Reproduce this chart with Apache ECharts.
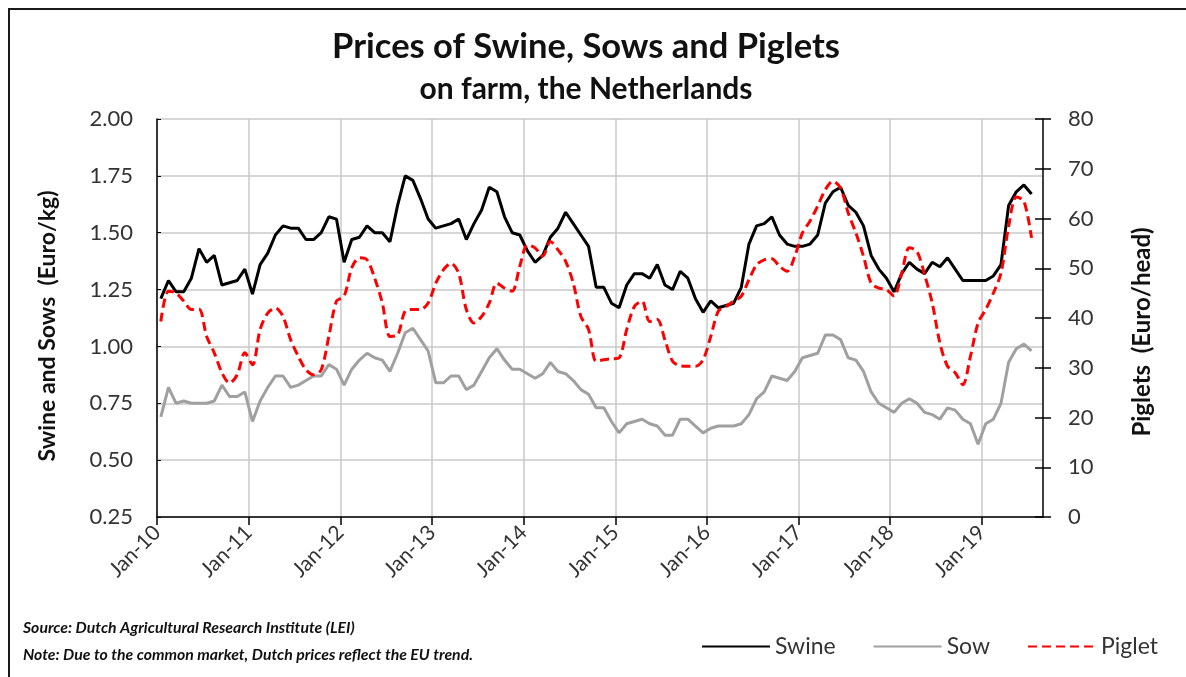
<!DOCTYPE html>
<html>
<head>
<meta charset="utf-8">
<script src="https://cdn.jsdelivr.net/npm/echarts@6/dist/echarts.min.js"></script>
<style>
html,body{margin:0;padding:0;background:#fff;}
#chart{width:1186px;height:677px;}
</style>
</head>
<body>
<div id="chart"></div>
<script>
// Months since Jan-2010 (index 0 = Jan-10)
const yearTickLabels = ['Jan-10','Jan-11','Jan-12','Jan-13','Jan-14','Jan-15','Jan-16','Jan-17','Jan-18','Jan-19'];
const leftTicks = ['0.25','0.50','0.75','1.00','1.25','1.50','1.75','2.00'];
const rightTicks = ['0','10','20','30','40','50','60','70','80'];

const swine = [
 1.21,1.29,1.24,1.24,1.30,1.43,1.37,1.40,1.27,1.28,1.29,1.34,
 1.23,1.36,1.41,1.49,1.53,1.52,1.52,1.47,1.47,1.50,1.57,1.56,
 1.37,1.47,1.48,1.53,1.50,1.50,1.46,1.62,1.75,1.73,1.65,1.56,
 1.52,1.53,1.54,1.56,1.47,1.54,1.60,1.70,1.68,1.57,1.50,1.49,
 1.42,1.37,1.40,1.48,1.52,1.59,1.54,1.49,1.44,1.26,1.26,1.19,
 1.17,1.27,1.32,1.32,1.30,1.36,1.27,1.25,1.33,1.30,1.21,1.15,
 1.20,1.17,1.18,1.19,1.26,1.45,1.53,1.54,1.57,1.49,1.45,1.44,
 1.44,1.45,1.49,1.63,1.68,1.70,1.62,1.59,1.53,1.40,1.34,1.30,
 1.24,1.32,1.37,1.34,1.32,1.37,1.35,1.39,1.34,1.29,1.29,1.29,
 1.29,1.31,1.36,1.62,1.68,1.71,1.67
];
const sow = [
 0.69,0.82,0.75,0.76,0.75,0.75,0.75,0.76,0.83,0.78,0.78,0.80,
 0.67,0.76,0.82,0.87,0.87,0.82,0.83,0.85,0.87,0.87,0.92,0.90,
 0.83,0.90,0.94,0.97,0.95,0.94,0.89,0.97,1.06,1.08,1.03,0.98,
 0.84,0.84,0.87,0.87,0.81,0.83,0.89,0.95,0.99,0.94,0.90,0.90,
 0.88,0.86,0.88,0.93,0.89,0.88,0.85,0.81,0.79,0.73,0.73,0.67,
 0.62,0.66,0.67,0.68,0.66,0.65,0.61,0.61,0.68,0.68,0.65,0.62,
 0.64,0.65,0.65,0.65,0.66,0.70,0.77,0.80,0.87,0.86,0.85,0.89,
 0.95,0.96,0.97,1.05,1.05,1.03,0.95,0.94,0.89,0.80,0.75,0.73,
 0.71,0.75,0.77,0.75,0.71,0.70,0.68,0.73,0.72,0.68,0.66,0.57,
 0.66,0.68,0.75,0.93,0.99,1.01,0.98
];
const piglet = [
 39.3,45.4,45.0,43.4,41.7,41.8,36.3,33.0,29.0,26.9,28.6,33.0,
 30.6,37.7,41.0,42.0,40.3,35.6,32.3,29.6,28.6,29.6,36.3,43.4,
 44.4,50.1,52.1,51.7,48.0,43.0,36.3,36.6,41.4,41.7,41.7,43.0,
 47.0,49.7,51.0,49.0,41.7,39.0,40.3,43.0,47.0,46.0,45.4,50.4,
 54.7,54.1,52.4,55.4,53.7,51.4,47.0,40.3,37.7,31.3,31.6,31.8,
 32.0,37.7,42.3,43.4,39.3,39.7,35.6,31.3,30.4,30.3,30.3,31.6,
 36.3,41.4,42.3,43.4,44.4,47.7,50.7,51.7,51.9,50.4,49.4,52.4,
 57.1,59.5,62.5,65.8,67.5,66.1,61.1,57.1,52.4,47.0,46.0,45.7,
 44.4,49.0,54.1,53.4,48.7,43.0,35.0,30.3,29.0,26.6,32.3,39.0,
 41.7,45.0,49.0,58.4,64.3,63.5,56.1
];

// points plotted at mid-month
const toPts = arr => arr.map((v, i) => [i + 0.5, v]);
const yearTickVals = yearTickLabels.map((_, i) => i * 12);

const FONT = 'Lato, "Open Sans", sans-serif';
const chart = echarts.init(document.getElementById('chart'), null, {renderer: 'canvas'});

const option = {
  backgroundColor: '#fff',
  animation: false,
  textStyle: {fontFamily: FONT},
  grid: {left: 157, right: 143, top: 119, bottom: 160, containLabel: false},
  graphic: [
    {type: 'polyline', shape: {points: [[9, 677], [9, 9], [1186, 9]]}, style: {stroke: '#1a1a1a', lineWidth: 2, fill: null}},
    {type: 'text', x: 586, y: 47, style: {text: 'Prices of Swine, Sows and Piglets', font: 'bold 34.5px ' + FONT, fill: '#111', align: 'center', verticalAlign: 'middle'}},
    {type: 'text', x: 586, y: 89, style: {text: 'on farm, the Netherlands', font: 'bold 30px ' + FONT, fill: '#111', align: 'center', verticalAlign: 'middle'}},
    {type: 'text', x: 48, y: 326, rotation: Math.PI / 2, style: {text: 'Swine and Sows  (Euro/kg)', font: 'bold 23px ' + FONT, fill: '#111', align: 'center', verticalAlign: 'middle'}},
    {type: 'text', x: 1142, y: 332, rotation: Math.PI / 2, style: {text: 'Piglets  (Euro/head)', font: 'bold 24px ' + FONT, fill: '#111', align: 'center', verticalAlign: 'middle'}},
    {type: 'text', x: 23, y: 628, style: {text: 'Source: Dutch Agricultural Research Institute (LEI)', font: 'italic bold 15.8px ' + FONT, fill: '#111', align: 'left', verticalAlign: 'middle'}},
    {type: 'text', x: 23, y: 655, style: {text: 'Note: Due to the common market, Dutch prices reflect the EU trend.', font: 'italic bold 15.8px ' + FONT, fill: '#111', align: 'left', verticalAlign: 'middle'}}
  ],
  legend: {
    left: 696, top: 630,
    itemWidth: 68, itemHeight: 14, itemGap: 37,
    itemStyle: {opacity: 0},
    textStyle: {fontSize: 23, color: '#333', fontFamily: FONT, padding: [0, 0, 0, 0]},
    data: ['Swine', 'Sow', 'Piglet']
  },
  xAxis: {
    type: 'value', min: 0, max: 116, interval: 12,
    axisLine: {show: true, lineStyle: {color: '#000', width: 1.5}},
    axisTick: {show: true, length: 8, lineStyle: {color: '#000', width: 1.5}, customValues: yearTickVals},
    axisLabel: {
      formatter: v => (v % 12 === 0 ? (yearTickLabels[v / 12] || '') : ''),
      rotate: 45, fontSize: 21, color: '#333', margin: 12, fontFamily: FONT
    },
    splitLine: {show: true, lineStyle: {color: '#c8c8c8', width: 1.5}}
  },
  yAxis: [
    {
      type: 'value', min: 0.25, max: 2.0, interval: 0.25, position: 'left',
      axisLine: {show: true, lineStyle: {color: '#000', width: 1.5}},
      axisTick: {show: true, inside: true, length: 4, lineStyle: {color: '#000'}},
      axisLabel: {formatter: v => v.toFixed(2), fontSize: 22, color: '#333', margin: 24, fontFamily: FONT},
      splitLine: {show: true, lineStyle: {color: '#c8c8c8', width: 1.5}}
    },
    {
      type: 'value', min: 0, max: 80, interval: 10, position: 'right',
      axisLine: {show: true, lineStyle: {color: '#000', width: 1.5}},
      axisTick: {show: true, length: 8, lineStyle: {color: '#000', width: 1.5}},
      axisLabel: {fontSize: 22, color: '#333', margin: 25, fontFamily: FONT},
      splitLine: {show: false}
    },
    {
      type: 'value', min: 0, max: 80, interval: 10, position: 'right',
      axisLine: {show: false},
      axisTick: {show: true, inside: true, length: 8, lineStyle: {color: '#000', width: 1.5}},
      axisLabel: {show: false},
      splitLine: {show: false}
    }
  ],
  series: [
    {name: 'Swine', type: 'line', yAxisIndex: 0, data: toPts(swine), symbol: 'none',
     lineStyle: {color: '#000', width: 3}, itemStyle: {color: '#000'}, z: 4},
    {name: 'Sow', type: 'line', yAxisIndex: 0, data: toPts(sow), symbol: 'none',
     lineStyle: {color: '#a0a0a0', width: 3}, itemStyle: {color: '#a0a0a0'}, z: 3},
    {name: 'Piglet', type: 'line', yAxisIndex: 1, data: toPts(piglet), symbol: 'none', smooth: 0.3,
     lineStyle: {color: '#ff0000', width: 3, type: [9, 5]}, itemStyle: {color: '#ff0000'}, z: 5}
  ]
};
chart.setOption(option);
</script>
</body>
</html>
